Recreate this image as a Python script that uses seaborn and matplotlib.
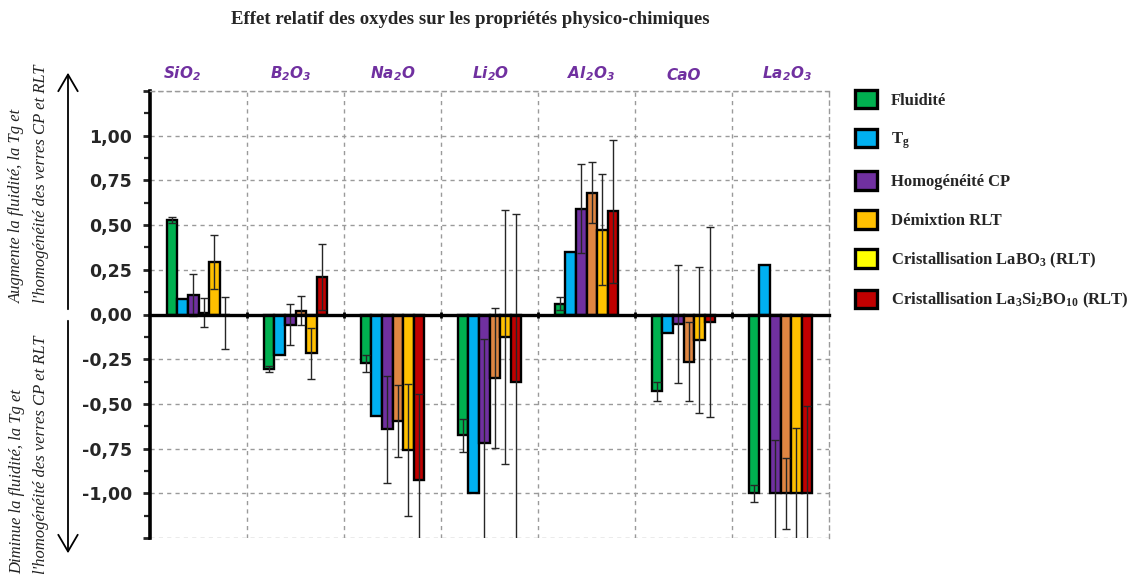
import numpy as np
import pandas as pd
import matplotlib
matplotlib.use("Agg")
import matplotlib.pyplot as plt
from matplotlib.patches import Patch, FancyArrowPatch
from matplotlib.ticker import FixedLocator, FuncFormatter
import seaborn as sns

# Oxides (categories along the x axis)
oxydes = ["SiO$_2$", "B$_2$O$_3$", "Na$_2$O", "Li$_2$O", "Al$_2$O$_3$", "CaO", "La$_2$O$_3$"]

# Property series
proprietes = ["Fluidité", "T$_g$", "Homogénéité CP", "Démixtion RLT",
              "Cristallisation LaBO$_3$ (RLT)", "Cristallisation La$_3$Si$_2$BO$_{10}$ (RLT)"]

# Relative effect of each oxide on each property
fluidite = [0.53, -0.305, -0.272, -0.676, 0.061, -0.43, -1.0]
tg = [0.086, -0.229, -0.566, -1.0, 0.347, -0.106, 0.279]
homogeneite = [0.108, -0.056, -0.642, -0.717, 0.592, -0.053, -1.0]
demixtion = [0.011, 0.022, -0.595, -0.355, 0.682, -0.263, -1.0]
crist_labo3 = [0.292, -0.218, -0.757, -0.126, 0.473, -0.143, -1.0]
crist_la3si2bo10 = [0.0, 0.209, -0.926, -0.376, 0.578, -0.043, -1.0]

# Uncertainties (lower / upper); Tg has none
fluidite_err = [0.017, 0.018, 0.047, 0.094, 0.037, 0.053, 0.047]
tg_err = [np.nan] * 7
homogeneite_err = [0.118, 0.115, 0.30, 0.58, 0.25, 0.33, 0.30]
demixtion_err = [0.08, 0.08, 0.20, 0.39, 0.17, 0.22, 0.20]
crist_labo3_err = [0.15, 0.14, 0.37, 0.71, 0.31, 0.41, 0.365]
crist_la3si2bo10_err_lo = [0.194, 0.186, 0.48, 0.936, 0.40, 0.53, 0.486]
crist_la3si2bo10_err_hi = [0.097, 0.186, 0.48, 0.936, 0.40, 0.53, 0.486]

series = [fluidite, tg, homogeneite, demixtion, crist_labo3, crist_la3si2bo10]
err_lo = [fluidite_err, tg_err, homogeneite_err, demixtion_err, crist_labo3_err, crist_la3si2bo10_err_lo]
err_hi = [fluidite_err, tg_err, homogeneite_err, demixtion_err, crist_labo3_err, crist_la3si2bo10_err_hi]

bar_colors = ["#00B050", "#00B0F0", "#7030A0", "#DF8642", "#FFC000", "#C00000"]
legend_colors = ["#00B050", "#00B0F0", "#7030A0", "#FFC000", "#FFFF00", "#C00000"]

# Horizontal nudges (points) for the oxide names above the groups
name_nudges = [-11.5, -3.5, 0, 0.5, 3.5, 0.5, 5]

df = pd.DataFrame({
    "oxyde": np.tile(oxydes, len(proprietes)),
    "propriete": np.repeat(proprietes, len(oxydes)),
    "valeur": np.concatenate(series),
})

sns.set_style("white")
plt.rcParams["font.family"] = ["DejaVu Sans"]
plt.rcParams["mathtext.default"] = "regular"

fig = plt.figure(figsize=(11.31, 5.76), dpi=100)
ax = fig.add_axes([150 / 1131, 1 - 538 / 576, (829 - 150) / 1131, (538 - 91) / 576])

sns.barplot(data=df, x="oxyde", y="valeur", hue="propriete", order=oxydes,
            hue_order=proprietes, palette=bar_colors, saturation=1,
            width=0.656, gap=0, edgecolor="black", linewidth=1.7,
            errorbar=None, legend=False, ax=ax, zorder=3)

# Error bars on each bar
for cont, vals, lo, hi in zip(ax.containers, series, err_lo, err_hi):
    for bar, v, l, h in zip(cont, vals, lo, hi):
        if np.isnan(l):
            continue
        xc = bar.get_x() + bar.get_width() / 2
        ax.errorbar([xc], [v], yerr=[[l], [h]], fmt="none", ecolor="#262626",
                    elinewidth=1.0, capsize=3, capthick=1.0, zorder=4)

ax.set_xlim(-0.5, 6.5)
ax.set_ylim(-1.25, 1.25)
ax.set_xlabel("")
ax.set_ylabel("")

# y axis: ticks every 0.25, minor every 0.125, comma decimals
major_y = np.arange(-1.25, 1.2501, 0.25)
ax.yaxis.set_major_locator(FixedLocator(major_y))
ax.yaxis.set_minor_locator(FixedLocator(np.arange(-1.25, 1.2501, 0.125)))
ax.yaxis.set_major_formatter(FuncFormatter(
    lambda v, p: "" if abs(v) > 1.01 else f"{v:.2f}".replace(".", ",").replace("-0,00", "0,00")))
ax.tick_params(axis="y", which="major", direction="out", length=5, width=2,
               left=True, pad=8, labelsize=12.5)
ax.tick_params(axis="y", which="minor", direction="out", length=4, width=1.6, left=True)
for lab in ax.get_yticklabels():
    lab.set_fontweight("bold")

# x axis: no labels on the axis itself, small marks at the group boundaries on the zero line
ax.set_xticks(range(len(oxydes)))
ax.xaxis.set_minor_locator(FixedLocator(np.arange(0.5, 6.0, 1.0)))
ax.tick_params(axis="x", which="major", bottom=False, top=False, labelbottom=False,
               labeltop=False, length=0)
ax.tick_params(axis="x", which="minor", bottom=True, top=False, direction="inout",
               length=4, width=2, color="black")

# Oxide names above each group
for i, (name, dx) in enumerate(zip(oxydes, name_nudges)):
    ax.annotate(name, (i, 1), xycoords=("data", "axes fraction"), xytext=(dx, 6),
                textcoords="offset points", ha="center", va="bottom", fontsize=11,
                fontweight="bold", fontstyle="italic", color="#7030A0")

# Grid
ax.grid(True, axis="y", which="major", color="#9a9a9a", linestyle=(0, (3, 3)), linewidth=1)
ax.grid(True, axis="x", which="minor", color="#9a9a9a", linestyle=(0, (3, 3)), linewidth=1)
ax.set_axisbelow(True)

# Spines
ax.spines["left"].set_linewidth(2.6)
ax.spines["left"].set_color("black")
ax.spines["bottom"].set_position(("data", 0))
ax.spines["bottom"].set_linewidth(2.4)
ax.spines["bottom"].set_color("black")
ax.spines["bottom"].set_zorder(5)
for s in ("top", "right"):
    ax.spines[s].set_linestyle((0, (3, 3)))
    ax.spines[s].set_color("#9a9a9a")
    ax.spines[s].set_linewidth(1)

# Title
fig.text(470 / 1131, 1 - 20 / 576, "Effet relatif des oxydes sur les propriétés physico-chimiques",
         ha="center", va="center", fontsize=13.5, fontweight="bold", family="Liberation Serif")

# Direction arrows and side texts
xa = 68 / 1131
for y0, y1 in ((312, 70), (318, 556)):
    fig.add_artist(FancyArrowPatch(
        (xa, 1 - y0 / 576), (xa, 1 - y1 / 576), transform=fig.transFigure,
        arrowstyle="->,head_length=12,head_width=7", lw=1.3, color="black", mutation_scale=1))

side_kw = dict(rotation=90, ha="center", va="bottom", fontsize=12, fontstyle="italic",
               family="Liberation Serif", color="#222222")
fig.text(17 / 1131, 1 - 303 / 576, "Augmente la fluidité, la Tg et", **side_kw)
fig.text(41 / 1131, 1 - 303 / 576, "l'homogénéité des verres CP et RLT", **side_kw)
fig.text(17 / 1131, 1 - 574 / 576, "Diminue la fluidité, la Tg et", **side_kw)
fig.text(41 / 1131, 1 - 574 / 576, "l'homogénéité des verres CP et RLT", **side_kw)

# Legend
handles = [Patch(facecolor=c, edgecolor="black", linewidth=2.4) for c in legend_colors]
ax.legend(handles, proprietes, loc="upper left", bbox_to_anchor=(855 / 1131, 1 - 90 / 576),
          bbox_transform=fig.transFigure, frameon=False, handlelength=1.3, handleheight=1.3,
          handletextpad=0.85, labelspacing=1.22, borderaxespad=0, borderpad=0,
          prop={"family": "Liberation Serif", "weight": "bold", "size": 12})

fig.savefig("out.png", dpi=100)
